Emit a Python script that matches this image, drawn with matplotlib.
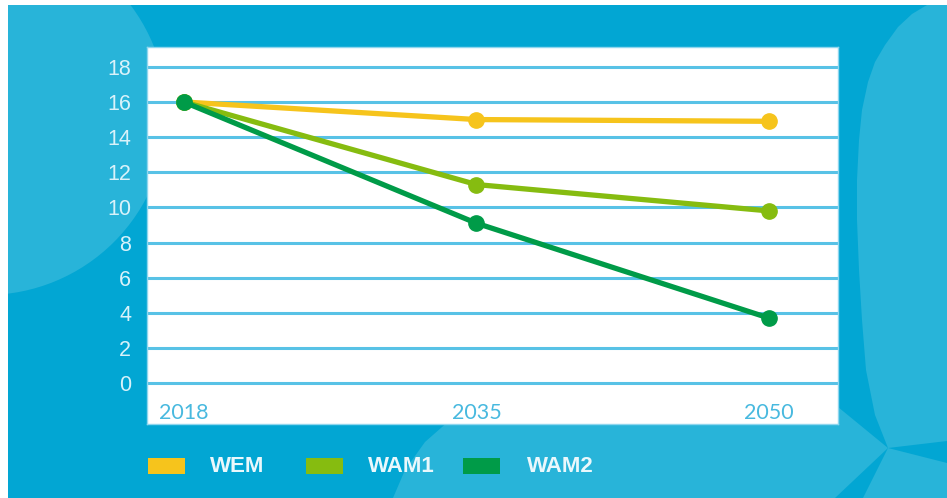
import matplotlib
matplotlib.use("Agg")
import matplotlib.pyplot as plt
from matplotlib.patches import Rectangle, Circle, Polygon

years = ["2018", "2035", "2050"]
series_names = ["WEM", "WAM1", "WAM2"]
wem = [16.0, 15.0, 14.9]
wam1 = [16.0, 11.3, 9.8]
wam2 = [16.0, 9.1, 3.7]
y_ticks = [0, 2, 4, 6, 8, 10, 12, 14, 16, 18]

colors = ["#f6c41c", "#86bc10", "#009b48"]
dark_bg = "#02a6d3"
light_bg = "#28b4d9"
W, H = 947, 498

fig = plt.figure(figsize=(W / 100, H / 100), dpi=100, facecolor="white")

# background drawn in pixel coordinates
bg = fig.add_axes([0, 0, 1, 1], zorder=0)
bg.set_xlim(0, W)
bg.set_ylim(H, 0)
bg.axis("off")
frame = Rectangle((8, 5), W - 8, H - 5, facecolor=dark_bg, edgecolor="none")
bg.add_patch(frame)
blob = Circle((-14, 114), 181, facecolor=light_bg, edgecolor="none")
bg.add_patch(blob)
blob.set_clip_path(frame)
bottom = [(393, 498), (405, 470), (425, 442), (450, 420), (480, 395),
          (838, 395), (838, 407), (888, 448), (835, 498)]
corner = [(863, 498), (888, 448), (947, 463), (947, 498)]
right = [(927, 5), (912, 14), (898, 27), (885, 45), (875, 62), (868, 82),
         (862, 110), (859, 140), (857, 180), (857, 220), (859, 270),
         (862, 320), (866, 370), (875, 415), (888, 448),
         (947, 441), (947, 5)]
for pts in (bottom, corner, right):
    bg.add_patch(Polygon(pts, closed=True, facecolor=light_bg, edgecolor="none"))

# legend, drawn by hand in pixel coordinates
patch_x = [148, 306, 463]
label_x = [210, 368, 527]
for name, c, px, lx in zip(series_names, colors, patch_x, label_x):
    bg.add_patch(Rectangle((px, 458), 37, 16, facecolor=c, edgecolor="none"))
    bg.text(lx, 466, name, color="#eaf8fc", fontsize=16, fontweight="bold",
            family="Liberation Sans", va="center", ha="left")

# main chart panel
ax = fig.add_axes([147 / W, (H - 424) / H, (838 - 147) / W, (424 - 47) / H], zorder=1)
ax.set_facecolor("white")
x = list(range(len(years)))
for vals, c in zip([wem, wam1, wam2], colors):
    ax.plot(x, vals, color=c, lw=3.8, marker="o", ms=11, solid_capstyle="round", zorder=3)

ax.set_xlim(-0.126, 2.236)
ax.set_ylim(-2.33, 19.13)
ax.set_yticks(y_ticks)
ax.set_xticks(x)
ax.set_xticklabels(years)
ax.grid(axis="y", color="#58c2e6", lw=2.2)
ax.grid(axis="x", visible=False)
ax.set_axisbelow(True)
for s in ax.spines.values():
    s.set_color("#8fd6ee")
    s.set_linewidth(1)
ax.tick_params(axis="y", length=0, pad=11.5, labelsize=15.5, labelcolor="#d9f2fa")
ax.tick_params(axis="x", length=0, pad=-15, labelsize=15.5, labelcolor="#48b9df")
for lab in ax.get_yticklabels():
    lab.set_family("Liberation Sans")
for lab in ax.get_xticklabels():
    lab.set_family("Lato")

fig.savefig("out.png", dpi=100, facecolor="white")
